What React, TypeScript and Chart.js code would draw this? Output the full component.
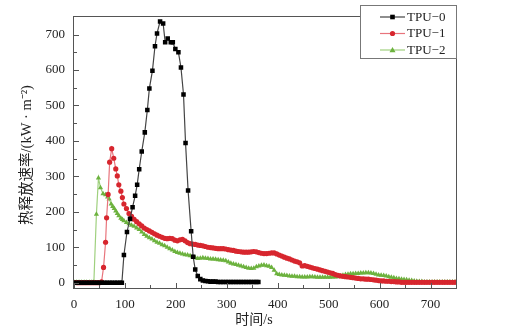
import React, { useEffect, useRef } from "react";
import { Chart, registerables } from "chart.js";

Chart.register(...registerables);

// ---- data ----
const seriesNames = ["TPU\u22120", "TPU\u22121", "TPU\u22122"];

const timeTPU0 = [0, 5, 10, 15, 20, 25, 30, 35, 40, 45, 50, 55, 60, 65, 70, 75, 80, 85, 90,
  94, 98, 104, 110, 115, 120, 124, 128, 133, 139, 144, 148, 154, 159, 163, 169, 175, 179, 184, 190,
  194, 199, 205, 210, 215, 219, 224, 230, 234, 238, 243, 248, 253, 258, 263, 268, 273, 278,
  283, 288, 293, 298, 303, 308, 313, 318, 323, 328, 333, 338, 343, 348, 353, 358, 362];
const hrrTPU0 = [0, 0, 0, 0, 0, 0, 0, 0, 0, 0, 0, 0, 0, 0, 0, 0, 0, 0, 0,
  0, 78, 143, 180, 213, 245, 276, 320, 370, 424, 487, 548, 598, 667, 703, 737, 731, 678, 689, 678,
  678, 659, 650, 607, 531, 394, 260, 145, 73, 37, 19, 10, 6, 5, 4, 3, 3, 3,
  2, 2, 2, 2, 2, 2, 2, 2, 2, 2, 2, 2, 2, 2, 2, 2, 2];

const timeTPU1 = [0, 5, 10, 15, 20, 25, 30, 35, 40, 45, 50, 54, 58, 62, 64, 67, 70, 74, 78, 82, 85, 88,
  92, 95, 98, 103, 108,
  113, 118, 123, 128, 133, 138, 143, 148, 153, 158, 163, 168, 173, 178, 183, 188, 193, 198, 203, 208,
  213, 218, 223, 228, 233, 238, 243, 248, 253, 258, 263, 268, 273, 278, 283, 288, 293, 298, 303, 308,
  313, 318, 323, 328, 333, 338, 343, 348, 353, 358, 363, 368, 373, 378, 383, 388, 393, 398, 403, 408,
  413, 418, 423, 428, 433, 438, 443, 448, 453, 458, 463, 468, 473, 478, 483, 488, 493, 498, 503, 508,
  513, 518, 523, 528, 533, 538, 543, 548, 553, 558, 563, 568, 573, 578, 583, 588, 593, 598, 603, 608,
  613, 618, 623, 628, 633, 638, 643, 648, 653, 658, 663, 668, 673, 678, 683, 688, 693, 698, 703, 708,
  713, 718, 723, 728, 733, 738, 743, 748];
const hrrTPU1 = [0, 0, 0, 0, 0, 0, 0, 0, 0, 0, 0, 2, 43, 114, 183, 249, 340, 378, 351, 321, 301, 276,
  258, 240, 222, 209, 195,
  187, 179, 172, 166, 160, 154, 150, 146, 142, 138, 134, 131, 128, 125, 124, 125, 124, 120, 118, 121,
  122, 118, 113, 110, 109, 108, 106, 105, 104, 102, 100, 99, 98, 97, 96, 96, 96, 95, 93, 92,
  91, 89, 88, 87, 86, 86, 86, 87, 88, 87, 85, 83, 82, 82, 83, 84, 84, 81, 78, 75,
  72, 69, 67, 64, 61, 59, 56, 47, 48, 46, 44, 42, 40, 38, 36, 34, 32, 30, 28, 26,
  23, 21, 19, 18, 17, 16, 15, 14, 13, 12, 11, 11, 10, 10, 9, 8, 7, 6, 5, 5,
  4, 4, 3, 3, 2, 2, 1, 1, 1, 1, 1, 1, 1, 1, 1, 1, 1, 1, 1, 1,
  1, 1, 1, 1, 1, 1, 1, 1];

const timeTPU2 = [0, 5, 10, 15, 20, 25, 30, 35, 39, 44, 48, 52, 57, 62, 66, 69, 73, 76, 79, 82, 85, 88,
  92, 95, 98, 103, 108,
  113, 118, 123, 128, 133, 138, 143, 148, 153, 158, 163, 168, 173, 178, 183, 188, 193, 198, 203, 208,
  213, 218, 223, 228, 233, 238, 243, 248, 253, 258, 263, 268, 273, 278, 283, 288, 293, 298, 303, 308,
  313, 318, 323, 328, 333, 338, 343, 348, 353, 358, 363, 368, 373, 378, 383, 388, 393, 398, 403, 408,
  413, 418, 423, 428, 433, 438, 443, 448, 453, 458, 463, 468, 473, 478, 483, 488, 493, 498, 503, 508,
  513, 518, 523, 528, 533, 538, 543, 548, 553, 558, 563, 568, 573, 578, 583, 588, 593, 598, 603, 608,
  613, 618, 623, 628, 633, 638, 643, 648, 653, 658, 663, 668, 673, 678, 683, 688, 693, 698, 703, 708,
  713, 718, 723, 728, 733, 738, 743, 748];
const hrrTPU2 = [1, 1, 1, 1, 1, 1, 1, 1, 1, 193, 295, 268, 251, 248, 242, 236, 222, 215, 209, 202, 195, 189,
  182, 178, 175, 170, 166,
  162, 159, 154, 150, 143, 136, 131, 127, 123, 118, 114, 111, 107, 104, 100, 96, 92, 88, 85, 83,
  81, 79, 78, 76, 73, 70, 68, 69, 70, 69, 68, 67, 67, 66, 65, 64, 63, 62, 58, 55,
  53, 51, 49, 47, 45, 43, 41, 40, 41, 45, 47, 49, 50, 48, 46, 43, 35, 25, 23, 22,
  21, 20, 19, 18, 18, 17, 17, 16, 16, 16, 17, 17, 16, 15, 15, 15, 15, 15, 15, 16,
  16, 17, 19, 21, 23, 24, 25, 25, 26, 26, 27, 27, 28, 28, 27, 26, 24, 22, 21, 20,
  19, 17, 15, 14, 12, 11, 10, 9, 8, 7, 6, 5, 4, 3, 3, 2, 2, 2, 2, 2,
  2, 2, 2, 2, 2, 2, 2, 2];

const xTickValues = [0, 100, 200, 300, 400, 500, 600, 700];
const yTickValues = [0, 100, 200, 300, 400, 500, 600, 700];

const xTitle = "时间/s";
const yTitle = "热释放速率/(kW · m⁻²)";

// ---- styles ----
const lineColors = ["#444444", "#e8747c", "#9fd07e"];
const pointColors = ["#000000", "#d7262e", "#6cb23e"];
const pointStyles = ["rect", "circle", "triangle"];
const pointRadii = [3.2, 2.6, 3];
const serif = "'Liberation Serif', 'Times New Roman', 'Noto Sans CJK SC', serif";

function toPoints(ts: number[], vs: number[]) {
  return ts.map((t, i) => ({ x: t, y: vs[i] }));
}

const framePlugin = {
  id: "frameTicksLegend",
  afterDraw(chart: any) {
    const { ctx, chartArea } = chart;
    const { left, right, top, bottom } = chartArea;
    const xs = chart.scales.x;
    const ys = chart.scales.y;
    ctx.save();
    ctx.strokeStyle = "#555";
    ctx.lineWidth = 1;
    // frame
    ctx.strokeRect(Math.round(left) - 0.5, Math.round(top) - 0.5, Math.round(right - left) + 1, Math.round(bottom - top) + 1);
    // ticks
    ctx.beginPath();
    for (let v = 0; v <= 750; v += 50) {
      const px = Math.round(xs.getPixelForValue(v)) + 0.5;
      const len = v % 100 === 0 ? 5 : 3;
      ctx.moveTo(px, bottom);
      ctx.lineTo(px, bottom - len);
    }
    for (let v = 0; v <= 700; v += 50) {
      const py = Math.round(ys.getPixelForValue(v)) + 0.5;
      const len = v % 100 === 0 ? 5 : 3;
      ctx.moveTo(left, py);
      ctx.lineTo(left + len, py);
    }
    ctx.stroke();

    // axis titles
    ctx.fillStyle = "#222";
    ctx.textAlign = "center";
    ctx.textBaseline = "middle";
    ctx.font = "14px " + serif;
    ctx.fillText(xTitle, 254, 320);
    ctx.save();
    ctx.translate(27, 155);
    ctx.rotate(-Math.PI / 2);
    ctx.font = "14.5px " + serif;
    ctx.fillText(yTitle, 0, 0);
    ctx.restore();

    // legend
    const bx = 360.5, by = 5.5, bw = 96, bh = 53;
    ctx.fillStyle = "#fff";
    ctx.fillRect(bx, by, bw, bh);
    ctx.strokeStyle = "#777";
    ctx.strokeRect(bx, by, bw, bh);
    ctx.font = "13px " + serif;
    ctx.textBaseline = "middle";
    ctx.textAlign = "left";
    seriesNames.forEach((name, i) => {
      const y = 17 + i * 16.5;
      ctx.strokeStyle = lineColors[i];
      ctx.lineWidth = 1.2;
      ctx.beginPath();
      ctx.moveTo(380, y);
      ctx.lineTo(405, y);
      ctx.stroke();
      ctx.fillStyle = pointColors[i];
      const cx = 392.5;
      if (i === 0) {
        ctx.fillRect(cx - 2.3, y - 2.3, 4.6, 4.6);
      } else if (i === 1) {
        ctx.beginPath();
        ctx.arc(cx, y, 2.6, 0, Math.PI * 2);
        ctx.fill();
      } else {
        ctx.beginPath();
        ctx.moveTo(cx, y - 3);
        ctx.lineTo(cx + 3, y + 2.2);
        ctx.lineTo(cx - 3, y + 2.2);
        ctx.closePath();
        ctx.fill();
      }
      ctx.fillStyle = "#222";
      ctx.fillText(name, 407, y + 0.5);
    });
    ctx.restore();
  },
};

export default function App() {
  const ref = useRef<HTMLCanvasElement | null>(null);
  useEffect(() => {
    if (!ref.current) return;
    const series = [
      toPoints(timeTPU0, hrrTPU0),
      toPoints(timeTPU1, hrrTPU1),
      toPoints(timeTPU2, hrrTPU2),
    ];
    const chart = new Chart(ref.current, {
      type: "line",
      data: {
        datasets: series.map((d, i) => ({
          label: seriesNames[i],
          data: d,
          borderColor: lineColors[i],
          borderWidth: 1.2,
          backgroundColor: pointColors[i],
          pointBackgroundColor: pointColors[i],
          pointBorderColor: pointColors[i],
          pointBorderWidth: 0,
          pointStyle: pointStyles[i] as any,
          pointRadius: pointRadii[i],
          tension: 0,
          fill: false,
        })),
      },
      options: {
        animation: false,
        responsive: false,
        layout: { padding: { top: 6, right: 55, left: 0, bottom: 0 } },
        plugins: { legend: { display: false }, tooltip: { enabled: false } },
        scales: {
          x: {
            type: "linear",
            min: 0,
            max: 750,
            grid: { display: false, drawTicks: false },
            border: { display: false },
            ticks: { color: "#222", font: { family: serif, size: 13 }, padding: 9, maxRotation: 0 },
            afterBuildTicks: (s: any) => { s.ticks = xTickValues.map((v) => ({ value: v })); },
            afterFit: (s: any) => { s.height = 42; },
          },
          y: {
            type: "linear",
            min: -15,
            max: 750,
            grid: { display: false, drawTicks: false },
            border: { display: false },
            ticks: { color: "#222", font: { family: serif, size: 13 }, padding: 9 },
            afterBuildTicks: (s: any) => { s.ticks = yTickValues.map((v) => ({ value: v })); },
            afterFit: (s: any) => { s.width = 74; },
          },
        },
      },
      plugins: [framePlugin],
    });
    return () => chart.destroy();
  }, []);
  return (
    <div style={{ position: "absolute", left: 0, top: 0, width: 511, height: 330 }}>
      <canvas ref={ref} width={511} height={330} />
    </div>
  );
}
